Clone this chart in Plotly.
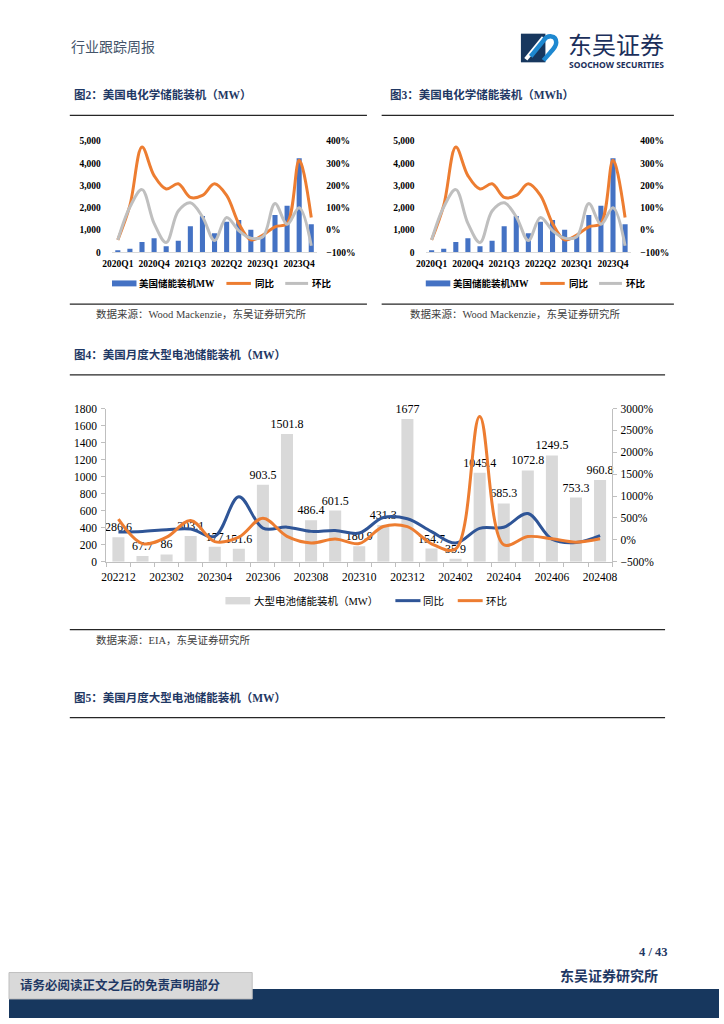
import plotly.graph_objects as go

# ---------------- data ----------------
quarters = ['2020Q1', '2020Q2', '2020Q3', '2020Q4', '2021Q1', '2021Q2', '2021Q3', '2021Q4',
            '2022Q1', '2022Q2', '2022Q3', '2022Q4', '2023Q1', '2023Q2', '2023Q3', '2023Q4', '2024Q1']
q_install = [100, 160, 470, 640, 280, 520, 1170, 1640, 860, 1380, 1450, 1020, 764, 1680, 2090, 4230, 1260]
q_yoy = [-44, 111, 373, 245, 185, 208, 147, 156, 208, 156, 30, -44, -22, 15, 30, 314, 57]
q_qoq = [-44, 104, 182, 30, -56, 86, 123, 60, -47, 57, -2, -36, -30, 120, 26, 101, -70]

# chart 3 (MWh) - same picture as chart 2 in the reference
q_install_mwh = [100, 160, 470, 640, 280, 520, 1170, 1640, 860, 1380, 1450, 1020, 764, 1680, 2090, 4230, 1260]
q_yoy_mwh = [-44, 111, 373, 245, 185, 208, 147, 156, 208, 156, 30, -44, -22, 15, 30, 314, 57]
q_qoq_mwh = [-44, 104, 182, 30, -56, 86, 123, 60, -47, 57, -2, -36, -30, 120, 26, 101, -70]

months = ['202212', '202301', '202302', '202303', '202304', '202305', '202306', '202307', '202308',
          '202309', '202310', '202311', '202312', '202401', '202402', '202403', '202404', '202405',
          '202406', '202407', '202408']
m_install = [286.6, 67.7, 86, 303.1, 177, 151.6, 903.5, 1501.8, 486.4, 601.5, 180.9, 431.3, 1677,
             154.7, 35.9, 1045.4, 685.3, 1072.8, 1249.5, 753.3, 960.8]
m_yoy = [178, 193, 230, 245, 80, 983, 268, 290, 193, 215, 155, 510, 480, 188, -75, 263, 286, 600, 15, -60, 98]
m_mom = [471, -86, 60, 441, -40, 60, 494, 80, -71, 20, -86, 305, 300, -90, -210, 2820, -113, 75, 23, -53, 23]

# ---------------- helpers ----------------
W, H = 724, 1024
def X(px):
    return px / W
def Y(py):
    return 1 - py / H

SERIF = 'Liberation Serif, Noto Sans CJK SC'
CJK = 'Noto Sans CJK SC, Liberation Serif'
NAVY = '#1F3864'
BLUE = '#4472C4'
ORANGE = '#ED7D31'
GREY = '#BFBFBF'
DBLUE = '#2F5597'
BARGREY = '#D9D9D9'
AXC = '#BFBFBF'

fig = go.Figure()
shapes = []
annots = []

def txt(x, y, s, size, color='#000000', family=CJK, weight='normal', xanchor='left'):
    annots.append(dict(x=X(x), y=Y(y), xref='paper', yref='paper', text=s, showarrow=False,
                       xanchor=xanchor, yanchor='middle', borderpad=0,
                       font=dict(size=size, color=color, family=family, weight=weight)))

def hline(x0, x1, y, color='#262626', width=1.3):
    shapes.append(dict(type='line', xref='paper', yref='paper', x0=X(x0), x1=X(x1), y0=Y(y), y1=Y(y),
                       line=dict(color=color, width=width)))

def rect(x0, y0, x1, y1, fill, line_color=None, lw=0):
    shapes.append(dict(type='rect', xref='paper', yref='paper', x0=X(x0), x1=X(x1), y0=Y(y0), y1=Y(y1),
                       fillcolor=fill, line=dict(color=line_color or fill, width=lw)))

def path(points_str, color, width, fill=None):
    shapes.append(dict(type='path', xref='paper', yref='paper', path=points_str,
                       line=dict(color=color, width=width), fillcolor=fill or 'rgba(0,0,0,0)'))

def P(x, y):
    return f'{X(x):.5f},{Y(y):.5f}'

# ---------------- quarterly charts (图2, 图3) ----------------
qidx = list(range(len(quarters)))
qtickvals = qidx[::3]
qticktext = quarters[::3]

def quarterly(dx, xa, ya, ya2, inst, yoy, qoq):
    xname = 'x' if xa == 'xaxis' else 'x' + xa[5:]
    yname = 'y' if ya == 'yaxis' else 'y' + ya[5:]
    y2name = 'y' + ya2[5:]
    fig.add_trace(go.Bar(x=qidx, y=inst, width=0.42, marker=dict(color=BLUE, line=dict(width=0)),
                         xaxis=xname, yaxis=yname, showlegend=False, hoverinfo='skip'))
    fig.add_trace(go.Scatter(x=qidx, y=yoy, mode='lines', line=dict(color=ORANGE, width=3, shape='spline', smoothing=1),
                             xaxis=xname, yaxis=y2name, showlegend=False, hoverinfo='skip'))
    fig.add_trace(go.Scatter(x=qidx, y=qoq, mode='lines', line=dict(color=GREY, width=3, shape='spline', smoothing=1),
                             xaxis=xname, yaxis=y2name, showlegend=False, hoverinfo='skip'))
    tf = dict(family='Liberation Serif', size=9.5, color='#000000', weight='bold')
    fig.update_layout(**{
        xa: dict(domain=[X(104.8 + dx), X(314.4 + dx)], range=[-0.5, 16.5], tickmode='array',
                 tickvals=qtickvals, ticktext=qticktext, tickfont=tf, showgrid=False, zeroline=False,
                 showline=True, linecolor='#D9D9D9', linewidth=1, ticks='', anchor=yname,
                 ticklabelstandoff=2),
        ya: dict(domain=[Y(249.3), Y(136.7)], range=[0, 5000], tickmode='linear', tick0=0, dtick=1000,
                 tickformat=',', tickfont=tf,
                 showgrid=False, zeroline=False, showline=False, ticks='', anchor=xname,
                 ticklabelstandoff=10),
        ya2: dict(domain=[Y(249.3), Y(136.7)], range=[-100, 400], overlaying=yname, side='right',
                  tickmode='linear', tick0=-100, dtick=100, ticksuffix='%',
                  tickfont=tf, showgrid=False, zeroline=False, showline=False, ticks='', anchor=xname,
                  ticklabelstandoff=8),
    })
    # legend
    rect(105 + dx, 277.7, 130 + dx, 283.7, BLUE)
    txt(132 + dx, 280.7, '美国储能装机MW', 9.5, '#000000', SERIF, 'bold')
    hline(221.7 + dx, 246.7 + dx, 280.7, ORANGE, 3)
    txt(250 + dx, 280.7, '同比', 9.5, '#000000', SERIF, 'bold')
    hline(281.7 + dx, 305 + dx, 280.7, GREY, 3)
    txt(308 + dx, 280.7, '环比', 9.5, '#000000', SERIF, 'bold')

quarterly(0, 'xaxis', 'yaxis', 'yaxis2', q_install, q_yoy, q_qoq)
quarterly(320, 'xaxis2', 'yaxis3', 'yaxis4', q_install_mwh, q_yoy_mwh, q_qoq_mwh)

# ---------------- monthly chart (图4) ----------------
midx = list(range(len(months)))
fig.add_trace(go.Bar(x=midx, y=m_install, width=0.5, marker=dict(color=BARGREY, line=dict(width=0)),
                     text=[f'{v:g}' for v in m_install], textposition='outside', constraintext='none',
                     cliponaxis=False, textfont=dict(family='Liberation Serif', size=12, color='#000000'),
                     xaxis='x3', yaxis='y5', showlegend=False, hoverinfo='skip'))
fig.add_trace(go.Scatter(x=midx, y=m_yoy, mode='lines', line=dict(color=DBLUE, width=3, shape='spline', smoothing=1),
                         xaxis='x3', yaxis='y6', showlegend=False, hoverinfo='skip'))
fig.add_trace(go.Scatter(x=midx, y=m_mom, mode='lines', line=dict(color=ORANGE, width=3, shape='spline', smoothing=1),
                         xaxis='x3', yaxis='y6', showlegend=False, hoverinfo='skip'))

mtf = dict(family='Liberation Serif', size=11.5, color='#000000')
fig.update_layout(
    xaxis3=dict(domain=[X(99.3), X(615)], range=[-0.5, 20.5], tickmode='array', tickvals=midx[::2],
                ticktext=months[::2], tickfont=mtf, showgrid=False, zeroline=False, showline=True,
                linecolor=AXC, linewidth=1, ticks='', anchor='y5', ticklabelstandoff=4,
                minor=dict(tickmode='linear', tick0=-0.5, dtick=1, ticks='outside', ticklen=4,
                           tickcolor=AXC, tickwidth=1, showgrid=False)),
    yaxis5=dict(domain=[Y(562.3), Y(407.3)], range=[0, 1800], tickmode='linear', tick0=0, dtick=200,
                tickfont=mtf, showgrid=False, zeroline=False, showline=True, linecolor=AXC, linewidth=1,
                ticks='outside', ticklen=4, tickcolor=AXC, anchor='x3', ticklabelstandoff=2),
    yaxis6=dict(domain=[Y(562.3), Y(407.3)], range=[-500, 3000], overlaying='y5', side='right',
                tickmode='linear', tick0=-500, dtick=500, ticksuffix='%', tickfont=mtf, showgrid=False,
                zeroline=False, showline=True, linecolor=AXC, linewidth=1, ticks='outside', ticklen=4,
                tickcolor=AXC, anchor='x3', ticklabelstandoff=1),
)
# legend 图4
rect(220.7, 598, 246, 605.5, BARGREY)
txt(249, 601.7, '大型电池储能装机（MW）', 10.5, '#000000', SERIF)
hline(394, 419.6, 601.7, DBLUE, 3)
txt(421, 601.7, '同比', 10.5, '#000000', SERIF)
hline(457.6, 483, 601.7, ORANGE, 3)
txt(485, 601.7, '环比', 10.5, '#000000', SERIF)

# ---------------- page text / decorations ----------------
# header
txt(62.5, 40, '行业跟踪周报', 14, '#44546A', CJK)
# logo icon
rect(522, 28, 547, 57, '#17375E')
path('M ' + P(527, 54) + ' L ' + P(545, 32), '#FFFFFF', 4)
path('M ' + P(532, 51) + ' L ' + P(545, 35) + ' C ' + P(549, 29) + ' ' + P(558, 29) + ' ' + P(558, 37)
     + ' C ' + P(558, 41) + ' ' + P(555, 44) + ' ' + P(552, 47) + ' L ' + P(545, 55), '#1E88D0', 4.5)
txt(569, 37.8, '东吴证券', 24, '#1B2F5B', CJK)
txt(570, 59.4, 'SOOCHOW SECURITIES', 8.5, '#1B2F5B', 'Noto Sans', 'bold')

# titles
txt(65, 90, '图2：美国电化学储能装机（MW）', 11.5, NAVY, SERIF, 'bold')
txt(387, 90, '图3：美国电化学储能装机（MWh）', 11.5, NAVY, SERIF, 'bold')
hline(62, 365, 110.7)
hline(380, 678, 110.7)
hline(62, 365, 301.7)
hline(380, 678, 301.7)
txt(88, 311.7, '数据来源：Wood Mackenzie，东吴证券研究所', 10.5, '#404040', SERIF)
txt(408, 311.7, '数据来源：Wood Mackenzie，东吴证券研究所', 10.5, '#404040', SERIF)

txt(65, 352.7, '图4：美国月度大型电池储能装机（MW）', 11.5, NAVY, SERIF, 'bold')
hline(62, 669, 373.3)
hline(62, 669, 631)
txt(88, 641.7, '数据来源：EIA，东吴证券研究所', 10.5, '#404040', SERIF)

txt(65, 700, '图5：美国月度大型电池储能装机（MW）', 11.5, NAVY, SERIF, 'bold')
hline(62, 669, 720)

# footer
txt(672, 957, '4 / 43', 12.5, NAVY, 'Liberation Serif', 'bold', 'right')
txt(663, 981.7, '东吴证券研究所', 14, NAVY, SERIF, 'bold', 'right')
rect(0, 994.7, 724, 1024, '#17375E')
rect(0, 978, 248, 1004.7, '#D9D9D9', '#BFBFBF', 1)
txt(10, 991, '请务必阅读正文之后的免责声明部分', 12.5, NAVY, SERIF, 'bold')

fig.update_layout(
    width=W, height=H, autosize=False,
    margin=dict(l=0, r=0, t=0, b=0, pad=0),
    paper_bgcolor='#FFFFFF', plot_bgcolor='rgba(0,0,0,0)',
    showlegend=False, barmode='overlay',
    shapes=shapes, annotations=annots,
)

post = (
    "document.documentElement.style.margin='0px';document.documentElement.style.padding='0px';"
    "document.body.style.margin='0px';document.body.style.padding='0px';"
    "document.body.style.overflow='hidden';document.documentElement.style.overflow='hidden';"
    "var gd=document.getElementById('{plot_id}');"
    "gd.style.position='fixed';gd.style.left='0px';gd.style.top='0px';"
    "var w=window.innerWidth, h=window.innerHeight;"
    "if (w>0 && h>0 && (Math.abs(w-724)>1 || Math.abs(h-1024)>1)) {"
    "gd.style.width=w+'px';gd.style.height=h+'px';Plotly.relayout(gd,{width:w,height:h});}"
)
fig.write_html('out.html', config={'displayModeBar': False}, post_script=post)
